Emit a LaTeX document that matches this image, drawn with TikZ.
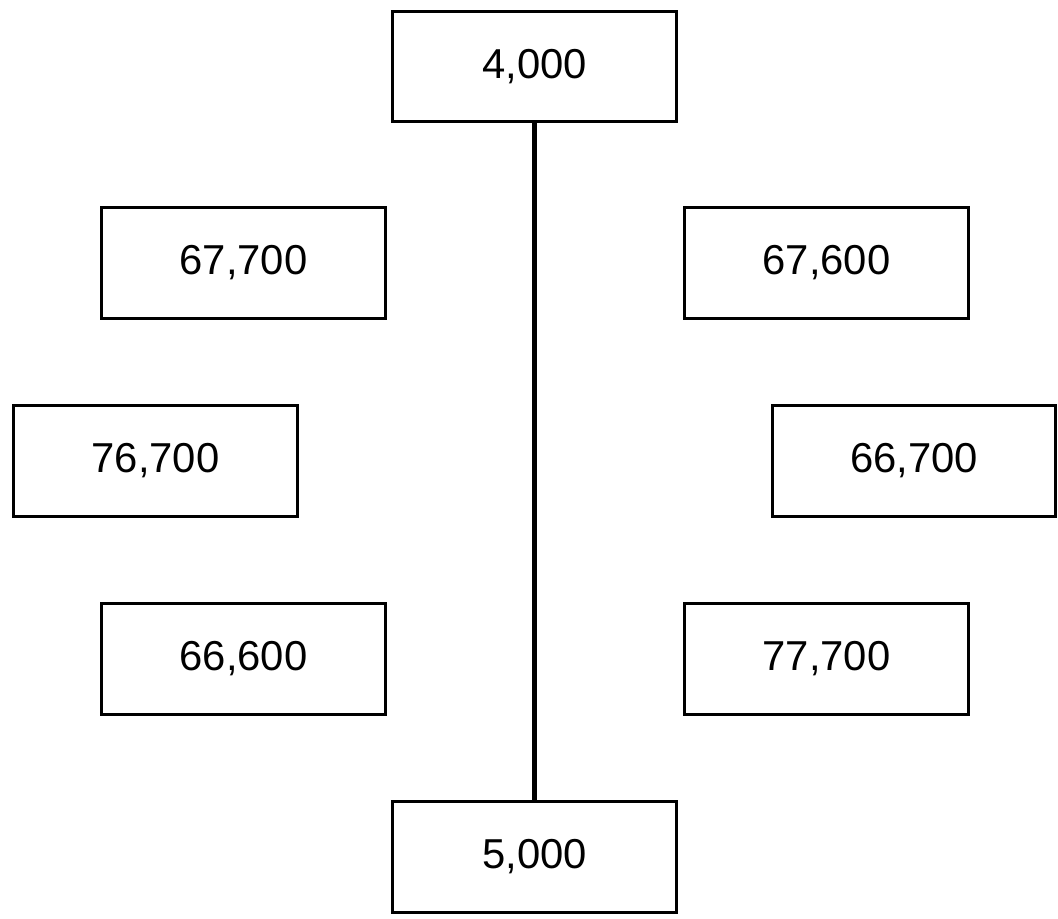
\documentclass[tikz,border=0pt]{standalone}
\usepackage{fontspec}
\setmainfont{Liberation Sans}
\tikzstyle{numbox}=[draw,line width=1.7pt,minimum width=5.68cm,minimum height=2.22cm,inner sep=0pt,font=\fontsize{23.8}{28}\selectfont]
\tikzstyle{stem}=[line width=2.6pt]

\begin{document}
\begin{tikzpicture}[x=0.02cm,y=-0.02cm]
	\useasboundingbox (0,0) rectangle (1058,919);
	% top and bottom of the stem
	\node[numbox] (top) at (534.5,66.5) {4,000};
	\node[numbox] (bottom) at (534.5,857) {5,000};
	% left column
	\node[numbox] (leftA) at (243.5,263) {67,700};
	\node[numbox] (leftB) at (155.5,461) {76,700};
	\node[numbox] (leftC) at (243.5,659) {66,600};
	% right column
	\node[numbox] (rightA) at (826.5,263) {67,600};
	\node[numbox] (rightB) at (914,461) {66,700};
	\node[numbox] (rightC) at (826.5,659) {77,700};
	% the stem
	\draw[stem] (top.south) -- (bottom.north);
\end{tikzpicture}
\end{document}
